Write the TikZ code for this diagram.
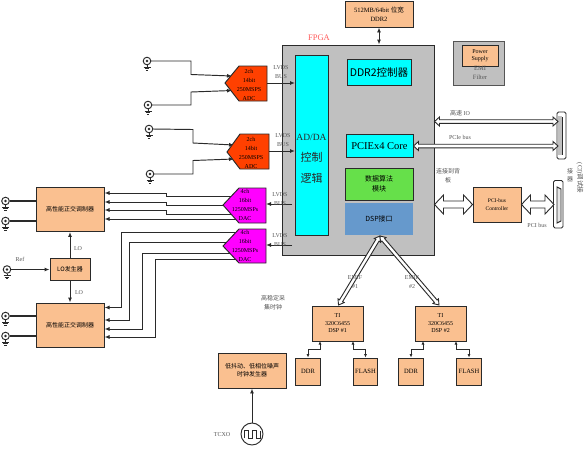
\documentclass[tikz,border=0pt]{standalone}
\usepackage{fontspec}
\setmainfont{Liberation Serif}
\newfontfamily\cjk{Noto Sans CJK SC}
\usetikzlibrary{arrows.meta,shapes.geometric,calc}
\definecolor{peach}{HTML}{FAC090}
\definecolor{fpgagray}{HTML}{C0C0C0}
\definecolor{adcred}{HTML}{FF4000}
\definecolor{dacmag}{HTML}{FF00FF}
\definecolor{cyanb}{HTML}{00FFFF}
\definecolor{dspblue}{HTML}{6699CC}
\definecolor{algog}{HTML}{66E04A}
\definecolor{ink}{HTML}{2A2A2A}
\definecolor{softink}{HTML}{555555}
\tikzset{
 x=1pt,y=-1pt,
 box/.style={draw=ink,line width=0.95pt,fill=peach,align=center,inner sep=0pt,font=\fontsize{6}{7.5}\selectfont},
 cy/.style={draw=ink,line width=0.95pt,fill=cyanb,align=center,inner sep=0pt},
 lab/.style={text=softink,align=center,inner sep=0pt,font=\fontsize{6}{9}\selectfont},
 chip/.style={text=black,align=center,inner sep=0pt,font=\fontsize{6}{9}\selectfont},
 sig/.style={draw=ink,line width=0.95pt,-{Latex[length=5pt,width=4pt]}},
 sigb/.style={draw=ink,line width=0.95pt,{Latex[length=5pt,width=4pt]}-{Latex[length=5pt,width=4pt]}},
 sm/.style={draw=ink,line width=0.95pt,{Latex[length=3.5pt,width=3pt]}-{Latex[length=3.5pt,width=3pt]}},
 wire/.style={draw=ink,line width=1.05pt},
 pent/.style={draw=ink,line width=0.95pt},
 hollow/.style={draw=ink,fill=white,line width=0.9pt,line join=miter},
}
\newcommand{\bnc}[2]{%
 \coordinate (#1) at (#2);
 \draw[ink,line width=0.95pt] (#2) circle (3.8pt);
 \fill[ink] (#2) circle (1.3pt);
 \draw[ink,line width=0.95pt] (#2)++(0,4) -- ++(0,2)
   (#2)++(-3.5,6) -- ++(7,0) (#2)++(-2.4,7.5) -- ++(4.8,0) (#2)++(-1.2,9) -- ++(2.4,0);
}
% hollow double-headed arrow: from, to, half shaft, head length, half head
\newcommand{\dblarrow}[5]{%
 \path let \p1=($(#2)-(#1)$), \n1={atan2(\y1,\x1)}, \n2={veclen(\x1,\y1)} in
   \pgfextra{\xdef\arrang{\n1}\pgfmathsetmacro{\arrlen}{\n2}\xdef\arrlen{\arrlen}};
 \pgfmathsetmacro{\arrback}{\arrlen-#4}
 \draw[hollow,shift={(#1)},rotate=\arrang,x=1pt,y=1pt] (0,0) -- (#4,#5) -- (#4,#3) -- (\arrback,#3) -- (\arrback,#5)
   -- (\arrlen,0) -- (\arrback,-#5) -- (\arrback,-#3) -- (#4,-#3) -- (#4,-#5) -- cycle;
}
\begin{document}
\begin{tikzpicture}
\useasboundingbox (0,0) rectangle (585,448);
\fill[white] (0,0) rectangle (585,448);

% FPGA
\node[draw=ink,line width=0.95pt,fill=fpgagray,minimum width=152pt,minimum height=210pt,inner sep=0pt] (fpga) at (358,150) {};
\node[text=red!65!white,inner sep=0pt,font=\fontsize{8.5}{9}\selectfont] (fpgat) at (319,38) {FPGA};
\node[cy,minimum width=33pt,minimum height=180pt] (adlogic) at (311.5,145) {};
\node[text=ink,align=center,inner sep=0pt,font=\fontsize{9.5}{21}\selectfont] (adtext) at (311.5,159) {AD/DA\\{\fontsize{11}{21}\selectfont\cjk 控制}\\{\fontsize{11}{21}\selectfont\cjk 逻辑}};
\node[cy,minimum width=64pt,minimum height=26pt,font=\fontsize{10.5}{12}\selectfont\cjk] (ddrc) at (379,72) {DDR2控制器};
\node[cy,minimum width=67pt,minimum height=23pt,font=\fontsize{10.5}{11}\selectfont] (pcie) at (379.5,146) {PCIEx4 Core};
\node[draw=ink,line width=0.95pt,fill=algog,align=center,minimum width=68pt,minimum height=32pt,inner sep=0pt,font=\fontsize{7}{10}\selectfont\cjk] (algo) at (379,184) {数据算法\\模块};
\node[fill=dspblue,align=center,minimum width=68pt,minimum height=32pt,inner sep=0pt,font=\fontsize{7}{9}\selectfont\cjk] (dspif) at (379,219) {DSP接口};

% DDR2 chip
\node[box,minimum width=68pt,minimum height=26pt,font=\fontsize{6.5}{9}\selectfont] (ddr2) at (379,14) {512MB/64bit {\cjk 位宽}\\DDR2};
\draw[sigb] (ddr2) -- (ddr2 |- fpga.north);

% Power
\node[draw=softink,line width=0.95pt,fill=fpgagray,minimum width=51pt,minimum height=44pt,inner sep=0pt] (emi) at (478.5,63) {};
\node[box,minimum width=36pt,minimum height=21pt] (power) at (480,55.5) {Power\\Supply};
\node[lab,font=\fontsize{6.5}{9}\selectfont] (emit) at (480,72.5) {EMI\\Filter};

% BNC inputs
\bnc{j1}{147,61}
\bnc{j2}{148,105}
\bnc{j3}{149,129}
\bnc{j4}{150,174}
\draw[sig] (j1)++(4,0) -- (191,61) -- (191,74.5) -- (232,76);
\draw[sig] (j2)++(4,0) -- (191,105) -- (191,92) -- (232,90.5);
\draw[sig] (j3)++(4,0) -- (193,129.5) -- (193,143) -- (234,145);
\draw[sig] (j4)++(4,0) -- (193,174) -- (193,160.5) -- (234,159);

% ADC
\draw[pent,fill=adcred] (225,83) -- (239,66) -- (267,66) -- (267,101) -- (239,101) -- cycle;
\node[chip] (adc1) at (249,84.5) {2ch\\14bit\\250MSPS\\ADC};
\draw[pent,fill=adcred] (227,152) -- (240,134) -- (269,134) -- (269,169) -- (240,169) -- cycle;
\node[chip] (adc2) at (251,152.5) {2ch\\14bit\\250MSPS\\ADC};
\coordinate (adc1e) at (267,83);
\coordinate (adc2e) at (269,151);
\coordinate (ad1) at (295,83);
\coordinate (ad2) at (295,151);
\draw[sig] (adc1e) -- (ad1);
\draw[sig] (adc2e) -- (ad2);
\node[lab] (lv1) at (281,72) {LVDS\\BUS};
\node[lab] (lv2) at (283,140.5) {LVDS\\BUS};

% DAC wires (under the chips)
\draw[sig] (236,196) -- (166,196) -- (166,193) -- (104.5,193);
\draw[sig] (225,205) -- (166,205) -- (166,202) -- (104.5,202);
\draw[sig] (236,214) -- (166,214) -- (166,210) -- (104.5,210);
\draw[sig] (236,219) -- (104.5,219);
\draw[sig] (238,232) -- (121,232) -- (121,307.5) -- (104.5,307.5);
\draw[sig] (230,242) -- (129,242) -- (129,320) -- (104.5,320);
\draw[sig] (232,253) -- (142,253) -- (142,329) -- (104.5,329);
\draw[sig] (238,259) -- (155,259) -- (155,337) -- (104.5,337);

% DAC
\draw[pent,fill=dacmag] (223,205) -- (239,188) -- (266,188) -- (266,223) -- (239,223) -- cycle;
\node[chip] (dac1) at (245,205) {4ch\\16bit\\1250MSPs\\DAC};
\draw[pent,fill=dacmag] (223,246) -- (239,229) -- (266,229) -- (266,263) -- (239,263) -- cycle;
\node[chip] (dac2) at (245,246) {4ch\\16bit\\1250MSPs\\DAC};
\coordinate (dac1e) at (266,204);
\coordinate (dac2e) at (266,245);
\coordinate (da1) at (292,204);
\coordinate (da2) at (292,245);
\draw[sig] (da1) -- (dac1e);
\draw[sig] (da2) -- (dac2e);
\node[lab] (lv3) at (280,199) {LVDS\\BUS};
\node[lab] (lv4) at (280,240.5) {LVDS\\BUS};

% Modulators
\node[box,minimum width=68pt,minimum height=44pt,font=\fontsize{6}{7.5}\selectfont\cjk] (mod1) at (70,209.5) {高性能正交调制器};
\node[box,minimum width=68pt,minimum height=44pt,font=\fontsize{6}{7.5}\selectfont\cjk] (mod2) at (70,325) {高性能正交调制器};
\node[box,minimum width=40pt,minimum height=22pt,font=\fontsize{6}{7.5}\selectfont\cjk] (lo) at (70,269) {LO发生器};
\draw[sig] (lo) -- (mod1);
\draw[sig] (lo) -- (mod2);
\node[lab] (lo1) at (78,248.5) {LO};
\node[lab] (lo2) at (79,292.5) {LO};

\bnc{j5}{5.5,201}
\bnc{j6}{5.5,221}
\bnc{j7}{7,269.5}
\bnc{j8}{5.5,316}
\bnc{j9}{5.5,336}
\draw[wire] (j5)++(4,0) -- (mod1.west |- j5);
\draw[wire] (j6)++(4,0) -- (mod1.west |- j6);
\draw[wire] (j8)++(4,0) -- (mod2.west |- j8);
\draw[wire] (j9)++(4,0) -- (mod2.west |- j9);
\draw[sig] (j7)++(4,0) -- (lo.west |- j7);
\node[lab] (ref) at (20,259) {Ref};

% clock label
\node[lab,font=\fontsize{6}{9}\selectfont\cjk] (hsclk) at (273,303) {高稳定采\\集时钟};

% DSP
\node[box,minimum width=51pt,minimum height=35pt] (dsp1) at (337.5,323.5) {TI\\320C6455\\DSP \#1};
\node[box,minimum width=51pt,minimum height=35pt] (dsp2) at (440.5,323.5) {TI\\320C6455\\DSP \#2};
\coordinate (dspapex) at (380,236);
\coordinate (dsp1t) at (338.5,305);
\coordinate (dsp2t) at (439,305);
\dblarrow{dspapex}{dsp1t}{1.8}{5}{3.6}
\dblarrow{dspapex}{dsp2t}{1.8}{5}{3.6}
\node[lab] (emif1) at (355,282) {EMIF\\\#1};
\node[lab] (emif2) at (412,282) {EMIF\\\#2};

\node[box,minimum width=24.5pt,minimum height=27pt,font=\fontsize{6.5}{8}\selectfont] (m1) at (308,371.5) {DDR};
\node[box,minimum width=24.5pt,minimum height=27pt,font=\fontsize{6.5}{8}\selectfont] (m2) at (365.5,371.5) {FLASH};
\node[box,minimum width=24.5pt,minimum height=27pt,font=\fontsize{6.5}{8}\selectfont] (m3) at (411,371.5) {DDR};
\node[box,minimum width=24.5pt,minimum height=27pt,font=\fontsize{6.5}{8}\selectfont] (m4) at (469,371.5) {FLASH};
\draw[sm] (m1.north) -- (308,349) -- (320,349) -- (320,341);
\draw[sm] (m2.north) -- (365.5,349) -- (353,349) -- (353,341);
\draw[sm] (m3.north) -- (411,349) -- (423,349) -- (423,341);
\draw[sm] (m4.north) -- (469,349) -- (456,349) -- (456,341);

% clock gen
\node[box,minimum width=68pt,minimum height=35pt,font=\fontsize{6}{8}\selectfont\cjk] (clk) at (252,370.5) {低抖动、低相位噪声\\时钟发生器};
\node[draw=ink,line width=0.95pt,circle,minimum size=22pt,inner sep=0pt] (tcxo) at (252,434) {};
\draw[ink,line width=0.95pt] (244,438) -- (244,430) -- (248,430) -- (248,438) -- (252,438) -- (252,430) -- (256,430) -- (256,438) -- (260,438) -- (260,431);
\draw[sig] (tcxo) -- (clk);
\node[lab] (tcxol) at (222,435) {TCXO};

% Right side
\draw[draw=ink,fill=white,line width=0.95pt,rounded corners=1.5pt] (557,112) rectangle (566,159);
\fill[fpgagray] (557.6,116) rectangle (562,155);
\draw[ink,line width=0.95pt] (562,117) -- (562,155);
\coordinate (c1a) at (558,121.5);
\coordinate (c1b) at (558,146);
\coordinate (f1) at (434.5,121.5);
\coordinate (f2) at (413.5,146);
\dblarrow{f1}{c1a}{1.8}{5}{4.5}
\dblarrow{f2}{c1b}{1.8}{5}{4.5}
\node[lab] (hsio) at (460,113) {{\cjk 高速} IO};
\node[lab] (pciebus) at (460,137) {PCIe bus};

\node[box,minimum width=48pt,minimum height=35pt,font=\fontsize{5.5}{8}\selectfont] (pcictl) at (497,204.5) {PCI-bus\\Controller};
\draw[draw=ink,fill=white,line width=0.95pt,rounded corners=1.5pt] (553.5,180.5) rectangle (563,228);
\draw[ink,line width=0.95pt,fill=fpgagray!40] (557,187) -- (561,189) -- (561,221) -- (557,223) -- cycle;
\coordinate (f3) at (434.5,204.5);
\coordinate (c2) at (554,204.5);
\dblarrow{f3}{pcictl.west}{3.5}{9}{9.5}
\dblarrow{pcictl.east}{c2}{3.5}{9}{9.5}
\node[lab,font=\fontsize{6}{9}\selectfont\cjk] (bp) at (448,175.5) {连接到背\\板};
\node[lab] (pcib) at (537,225) {PCI bus};
\node[lab,rotate=-90,font=\fontsize{6.5}{7.5}\selectfont] (dbg) at (580,178) {(CI){\cjk 调试接}};
\node[lab,font=\fontsize{6}{8}\selectfont\cjk] (dbg2) at (570,175) {接\\器};
\end{tikzpicture}
\end{document}
